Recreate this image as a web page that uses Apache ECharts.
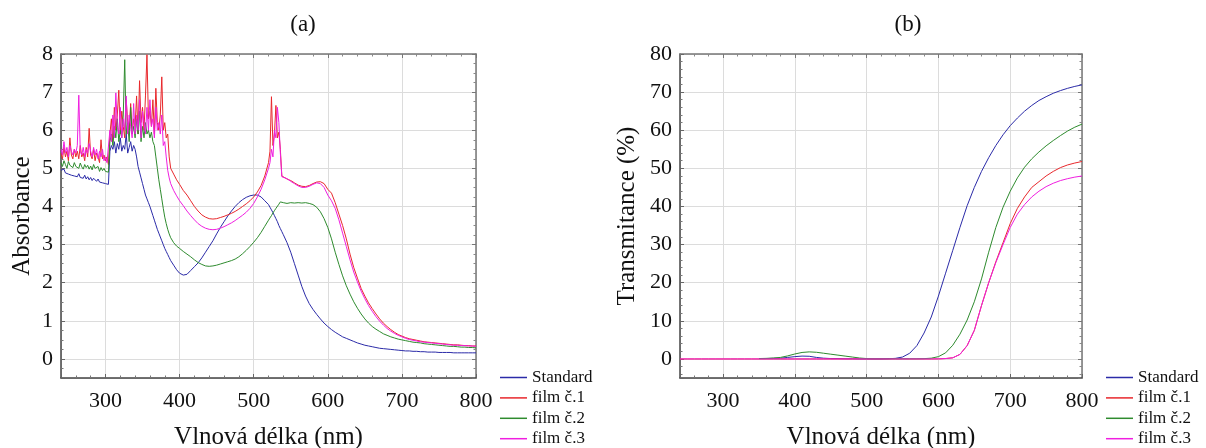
<!DOCTYPE html>
<html><head><meta charset="utf-8">
<script src="https://cdn.jsdelivr.net/npm/echarts@6/dist/echarts.min.js"></script>
<style>html,body{margin:0;padding:0;background:#fff}#c{width:1206px;height:448px}</style>
</head><body><div id="c"></div>
<script>
// ---------- DATA ----------
const seriesNames = ['Standard', 'film č.1', 'film č.2', 'film č.3'];
const panelTitles = ['(a)', '(b)'];
const xAxisName = 'Vlnová délka (nm)';
const yNameA = 'Absorbance';
const yNameB = 'Transmitance (%)';

// (a) wavelengths
const wlA = [
240,242,244,246,248,250,252,254,256,258,
260,262,264,266,268,270,272,274,276,278,
280,282,284,286,288,290,292,294,296,298,
300,302,304,306,308,310,312,314,316,318,
320,322,324,326,328,330,332,334,336,338,
340,342,344,346,348,350,352,354,356,358,
360,362,364,366,368,370,372,374,376,378,
380,382,384,386,388,
392,396,400,
405,410,415,420,425,430,435,440,445,450,455,460,465,470,475,480,485,490,495,500,505,510,515,520,
522,524,526,528,530,532,534,536,538,540,
545,550,555,560,565,570,575,580,585,590,
595,600,605,610,615,620,625,630,635,640,
645,650,655,660,665,670,675,680,685,690,
695,700,705,710,715,720,725,730,735,740,
745,750,755,760,765,770,775,780,785,790,
795,800
];
const absStandard = [
4.95,4.9,4.98,4.88,4.92,4.85,4.9,4.82,4.87,4.8,
4.84,4.78,4.86,4.76,4.8,4.74,4.82,4.72,4.78,4.7,
4.76,4.68,4.74,4.7,4.66,4.72,4.64,4.68,4.62,4.66,
4.6,4.64,4.58,5.45,5.6,5.5,5.7,5.4,5.65,5.5,
5.8,5.45,5.6,5.5,5.9,5.4,5.55,5.7,5.45,5.6,
5.5,5.3,5.05,4.9,4.75,4.6,4.45,4.3,4.2,4.1,
4.0,3.88,3.76,3.64,3.52,3.4,3.3,3.2,3.1,3.0,
2.9,2.82,2.74,2.66,2.58,
2.46,2.34,2.25,
2.2,2.22,2.32,2.42,2.52,2.65,2.8,2.95,3.1,3.28,3.45,3.6,3.75,3.88,4.0,4.1,4.18,4.24,4.28,4.3,4.3,4.25,4.15,4.05,
3.98,3.91,3.84,3.76,3.68,3.6,3.5,3.42,3.34,3.26,
3.05,2.8,2.5,2.2,1.9,1.65,1.45,1.3,1.17,1.05,
0.94,0.85,0.77,0.7,0.64,0.58,0.54,0.5,0.46,0.42,
0.39,0.36,0.34,0.32,0.3,0.28,0.27,0.26,0.25,0.24,
0.23,0.22,0.21,0.21,0.2,0.2,0.19,0.19,0.18,0.18,
0.18,0.17,0.17,0.17,0.17,0.16,0.16,0.16,0.16,0.16,
0.16,0.16
];
const absFilm1 = [
5.4,5.25,5.55,5.3,5.45,5.2,5.8,5.35,5.25,5.5,
5.3,5.45,5.25,5.6,5.3,5.4,5.2,5.55,5.3,6.05,
5.35,5.25,5.5,5.2,5.4,5.3,5.15,5.75,5.25,5.35,
5.2,5.3,5.1,5.9,6.3,5.7,6.6,6.0,6.4,7.05,
5.9,6.5,6.1,5.8,6.8,6.2,6.0,6.7,5.9,6.3,
6.1,6.9,5.9,7.3,6.2,6.6,6.0,6.9,7.98,6.3,
6.5,6.1,6.8,5.9,7.1,6.2,6.0,6.4,7.4,6.0,
6.2,5.8,5.9,5.3,5.0,
4.85,4.7,4.58,
4.42,4.3,4.15,4.0,3.88,3.78,3.72,3.68,3.67,3.68,3.71,3.74,3.78,3.82,3.87,3.93,4.0,4.07,4.15,4.25,4.38,4.55,4.8,5.15,
5.45,6.88,5.6,5.9,6.65,5.8,5.95,5.5,4.8,4.78,
4.72,4.68,4.62,4.56,4.53,4.52,4.55,4.6,4.64,4.65,
4.6,4.45,4.35,4.1,3.8,3.5,3.15,2.75,2.4,2.12,
1.85,1.65,1.47,1.32,1.18,1.05,0.94,0.85,0.77,0.7,
0.64,0.6,0.56,0.53,0.51,0.49,0.47,0.45,0.44,0.43,
0.42,0.41,0.4,0.39,0.38,0.37,0.37,0.36,0.35,0.35,
0.34,0.34
];
const absFilm2 = [
5.15,5.05,5.2,5.1,5.0,5.18,5.08,5.12,5.02,5.15,
5.05,5.1,5.0,5.14,5.04,4.98,5.1,5.02,5.08,4.98,
5.06,4.96,5.1,5.0,4.95,5.05,4.92,5.02,4.94,5.0,
4.92,4.96,4.9,5.7,5.9,5.6,6.1,5.8,6.3,5.7,
6.0,5.8,6.4,7.85,5.9,6.2,5.7,6.6,5.9,6.1,
5.8,6.3,5.9,6.5,5.7,6.1,5.8,6.2,5.9,6.0,
5.8,5.95,5.7,5.6,5.3,5.0,4.7,4.45,4.2,3.95,
3.72,3.55,3.4,3.28,3.18,
3.05,2.96,2.9,
2.82,2.75,2.68,2.6,2.53,2.48,2.44,2.43,2.44,2.46,2.49,2.52,2.55,2.58,2.62,2.68,2.76,2.85,2.95,3.06,3.18,3.32,3.48,3.64,
3.7,3.76,3.83,3.89,3.95,4.0,4.06,4.12,4.08,4.1,
4.08,4.1,4.09,4.1,4.09,4.1,4.08,4.05,3.98,3.86,
3.68,3.45,3.15,2.8,2.48,2.18,1.92,1.7,1.5,1.33,
1.18,1.05,0.94,0.85,0.78,0.72,0.66,0.62,0.58,0.55,
0.52,0.5,0.48,0.46,0.44,0.43,0.42,0.4,0.39,0.38,
0.37,0.36,0.35,0.34,0.33,0.33,0.32,0.31,0.31,0.3,
0.3,0.29
];
const absFilm3 = [
5.5,5.35,5.7,5.4,5.55,5.3,5.6,5.45,5.35,5.5,
5.4,5.6,6.92,5.45,5.35,5.55,5.3,5.5,5.4,5.65,
5.45,5.3,5.55,5.35,5.5,5.25,5.45,5.3,5.5,5.2,
5.3,5.15,5.1,6.0,5.7,6.4,5.8,6.98,6.1,5.9,
6.6,5.8,6.3,6.0,6.9,5.9,6.4,6.1,5.8,6.7,
5.9,6.4,6.0,6.8,5.8,6.5,6.2,5.9,6.6,6.0,
6.8,6.1,6.3,5.8,6.6,6.0,6.2,5.9,6.4,5.6,
5.7,5.3,4.95,4.75,4.6,
4.42,4.28,4.15,
4.02,3.88,3.76,3.65,3.55,3.48,3.43,3.4,3.39,3.4,3.43,3.47,3.52,3.57,3.63,3.7,3.77,3.85,3.95,4.08,4.25,4.45,4.7,5.0,
5.15,5.5,5.3,6.0,5.8,6.6,6.2,5.4,4.78,4.75,
4.73,4.66,4.6,4.54,4.5,4.5,4.53,4.58,4.62,4.6,
4.5,4.3,4.15,3.95,3.65,3.3,2.95,2.6,2.28,2.02,
1.78,1.58,1.4,1.25,1.11,0.99,0.89,0.8,0.73,0.67,
0.62,0.58,0.54,0.51,0.49,0.47,0.45,0.44,0.43,0.42,
0.41,0.4,0.39,0.38,0.37,0.36,0.36,0.35,0.35,0.34,
0.34,0.33
];

// (b) wavelengths
const wlB = [
240,250,260,270,280,290,300,310,320,330,
340,350,360,370,380,390,400,410,420,430,
440,450,460,470,480,490,500,510,520,530,
540,550,560,570,580,590,600,610,620,630,
640,650,660,670,680,690,700,710,720,730,
740,750,760,770,780,790,800
];
const trStandard = [
null,null,null,null,null,null,null,null,null,null,
null,0.1,0.1,0.15,0.2,0.4,0.6,0.75,0.7,0.4,
0.2,0.1,0.1,0.05,0.05,0,0,0,0,0.05,
0.15,0.5,1.5,3.5,6.8,11,16.5,22.5,28.5,34.5,
40.2,45,49.2,52.8,56,58.8,61.2,63.2,65,66.5,
67.8,68.8,69.7,70.4,71,71.5,71.9
];
const trFilm1 = [
0,0,0,0,0,0,0,0,0,0,
0,0,0,0,0,0,0,0,0,0,
0,0,0,0,0,0,0,0,0,0,
0,0,0,0,0,0,0.02,0.1,0.3,1.2,
3.5,7.5,14,20,25.5,30.5,35.5,39.5,42.5,45,
46.5,48,49.2,50.2,50.9,51.4,51.8
];
const trFilm2 = [
null,null,null,null,null,null,null,null,null,null,
null,0.1,0.15,0.25,0.4,0.8,1.3,1.7,1.85,1.75,
1.5,1.25,1.0,0.75,0.5,0.25,0.1,0.05,0.05,0.05,
0.05,0.05,0.05,0.05,0.08,0.2,0.6,1.6,3.6,6.5,
10.2,15,21,28,34.5,39.8,44,47.5,50.3,52.5,
54.3,55.9,57.3,58.6,59.8,60.8,61.6
];
const trFilm3 = [
0,0,0,0,0,0,0,0,0,0,
0,0,0,0,0,0,0,0,0,0,
0,0,0,0,0,0,0,0,0,0,
0,0,0,0,0,0,0.02,0.1,0.3,1.2,
3.5,7.5,14,20,25.3,30,34.5,38,40.5,42.5,
44,45.2,46.1,46.8,47.3,47.7,48.0
];

// ---------- STYLE ----------
const colors = ['#2b2ba8', '#e8282c', '#2e8b2e', '#f01ee0'];
const FONT = 'Liberation Serif';
const gridA = { left: 61, top: 54, width: 415, height: 324, outerBoundsMode: 'none', containLabel: false };
const gridB = { left: 680, top: 54, width: 402, height: 324, outerBoundsMode: 'none', containLabel: false };

function pairs(xs, ys) { return xs.map((x, i) => [x, ys[i]]); }

function mainX(gi) {
  return {
    type: 'value', gridIndex: gi, min: 240, max: 800, splitNumber: 6,
    minInterval: 100, maxInterval: 100,
    name: xAxisName, nameLocation: 'middle', nameGap: 47,
    nameTextStyle: { fontFamily: FONT, fontSize: 25, color: '#111' },
    axisLine: { show: true, onZero: false, lineStyle: { color: '#444', width: 1.5 } },
    axisTick: { show: true, inside: true, length: 4, lineStyle: { color: '#666' } },
    minorTick: { show: true, splitNumber: 5, length: 2.5, lineStyle: { color: '#777' } },
    axisLabel: { fontFamily: FONT, fontSize: 22, color: '#111', margin: 12, showMinLabel: false,
      formatter: v => (v % 100 === 0 ? String(v) : '') },
    splitLine: { show: true, lineStyle: { color: '#dcdcdc', width: 1 } }
  };
}
function frameX(gi) {
  return {
    type: 'value', gridIndex: gi, min: 240, max: 800, splitNumber: 6,
    minInterval: 100, maxInterval: 100, position: 'top',
    axisLine: { show: true, onZero: false, lineStyle: { color: '#777', width: 1.5 } },
    axisTick: { show: true, inside: true, length: 4, lineStyle: { color: '#777' } },
    minorTick: { show: true, splitNumber: 5, length: 2.5, lineStyle: { color: '#888' } },
    axisLabel: { show: false }, splitLine: { show: false }
  };
}
function mainY(gi, min, max, step, minorSplit, name, gap) {
  return {
    type: 'value', gridIndex: gi, min: min, max: max, splitNumber: Math.round((max - min) / step),
    minInterval: step, maxInterval: step,
    name: name, nameLocation: 'middle', nameGap: gap,
    nameTextStyle: { fontFamily: FONT, fontSize: 25, color: '#111' },
    axisLine: { show: true, onZero: false, lineStyle: { color: '#444', width: 1.5 } },
    axisTick: { show: true, inside: true, length: 4, lineStyle: { color: '#666' } },
    minorTick: { show: true, splitNumber: minorSplit, length: 2.5, lineStyle: { color: '#777' } },
    axisLabel: { fontFamily: FONT, fontSize: 22, color: '#111', margin: 8, showMinLabel: false,
      formatter: v => (Math.abs(v % step) < 1e-9 ? String(v) : '') },
    splitLine: { show: true, lineStyle: { color: '#dcdcdc', width: 1 } }
  };
}
function frameY(gi, min, max, step, minorSplit) {
  return {
    type: 'value', gridIndex: gi, min: min, max: max, splitNumber: Math.round((max - min) / step),
    minInterval: step, maxInterval: step, position: 'right',
    axisLine: { show: true, onZero: false, lineStyle: { color: '#777', width: 1.5 } },
    axisTick: { show: true, inside: true, length: 4, lineStyle: { color: '#777' } },
    minorTick: { show: true, splitNumber: minorSplit, length: 2.5, lineStyle: { color: '#888' } },
    axisLabel: { show: false }, splitLine: { show: false }
  };
}

const absData = [absStandard, absFilm1, absFilm2, absFilm3];
const trData = [trStandard, trFilm1, trFilm2, trFilm3];

const series = [];
seriesNames.forEach((n, i) => {
  series.push({ name: n, type: 'line', xAxisIndex: 0, yAxisIndex: 0, data: pairs(wlA, absData[i]),
    showSymbol: false, symbol: 'none', lineStyle: { width: 1, color: colors[i] }, itemStyle: { color: colors[i] },
    connectNulls: false, animation: false });
});
seriesNames.forEach((n, i) => {
  series.push({ name: n, type: 'line', xAxisIndex: 2, yAxisIndex: 2, data: pairs(wlB, trData[i]),
    showSymbol: false, symbol: 'none', lineStyle: { width: 1, color: colors[i] }, itemStyle: { color: colors[i] },
    connectNulls: false, animation: false });
});

function legendAt(left) {
  return {
    orient: 'vertical', left: left, top: 369, height: 120, padding: 0,
    itemWidth: 27, itemHeight: 1.5, icon: 'rect', itemGap: 3.4,
    data: seriesNames, selectedMode: false,
    textStyle: { fontFamily: FONT, fontSize: 17, color: '#111', lineHeight: 17 }
  };
}

const option = {
  backgroundColor: '#fff',
  animation: false,
  color: colors,
  grid: [gridA, gridB],
  xAxis: [mainX(0), frameX(0), mainX(1), frameX(1)],
  yAxis: [
    mainY(0, -0.5, 8, 1, 4, yNameA, 26),
    frameY(0, -0.5, 8, 1, 4),
    mainY(1, -5, 80, 10, 5, yNameB, 40),
    frameY(1, -5, 80, 10, 5)
  ],
  legend: [legendAt(500), legendAt(1106)],
  graphic: [
    { type: 'text', x: 303, y: 25, style: { text: panelTitles[0], font: '23px "' + FONT + '"', fill: '#111', align: 'center', verticalAlign: 'middle' } },
    { type: 'text', x: 908, y: 25, style: { text: panelTitles[1], font: '23px "' + FONT + '"', fill: '#111', align: 'center', verticalAlign: 'middle' } }
  ],
  series: series
};
const chart = echarts.init(document.getElementById('c'), null, { renderer: 'canvas' });
chart.setOption(option);
</script></body></html>
